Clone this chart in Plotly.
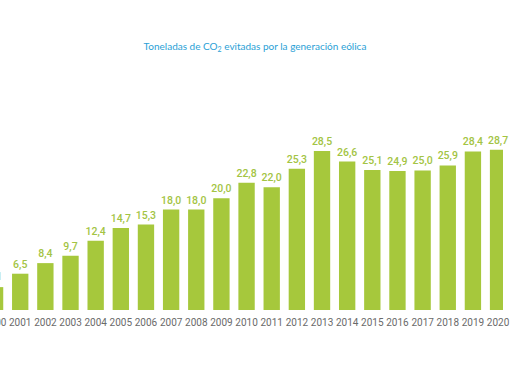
import plotly.graph_objects as go

years = [str(y) for y in range(2000, 2021)]
values = [4.1, 6.5, 8.4, 9.7, 12.4, 14.7, 15.3, 18.0, 18.0, 20.0, 22.8, 22.0,
          25.3, 28.5, 26.6, 25.1, 24.9, 25.0, 25.9, 28.4, 28.7]
labels = [f"{v:.1f}".replace(".", ",") for v in values]

GREEN = "#a6c83c"
LABEL_GREEN = "#a3c444"
GRAY = "#6a6a6a"
YEAR_FONT = dict(family="Liberation Sans Narrow, Roboto", size=10, color=GRAY)
VAL_FONT = dict(family="Roboto", size=10.5, color=LABEL_GREEN, weight=500)

W = 510
PITCH = 25.5
X0_PX = -5.0  # centre of first bar in pixels

fig = go.Figure(go.Bar(
    x=years, y=values, text=labels, textposition="outside",
    textfont=VAL_FONT, constraintext="none",
    marker=dict(color=GREEN, line=dict(width=0)),
    cliponaxis=False, hoverinfo="skip",
))

lo = -X0_PX / PITCH
fig.update_layout(
    width=W, height=382,
    margin=dict(l=0, r=0, t=80, b=72),
    paper_bgcolor="white", plot_bgcolor="white",
    bargap=0.35,
    showlegend=False,
    title=dict(
        text="Toneladas de CO<sub>2</sub> evitadas por la generación eólica",
        x=0.5, xanchor="center", y=1 - 46 / 382, yanchor="middle",
        font=dict(family="Lato", size=10, color="#2a9fd6"),
    ),
    xaxis=dict(
        type="category", range=[lo, lo + W / PITCH],
        showgrid=False, showline=False, zeroline=False, ticks="",
        tickfont=YEAR_FONT,
        ticklabelstandoff=5,
    ),
    yaxis=dict(range=[0, 41.2], visible=False, showgrid=False),
    annotations=[
        dict(x=X0_PX / W, y=0, xref="paper", yref="y", text=years[0], showarrow=False,
             xanchor="center", yanchor="top", yshift=-5, font=YEAR_FONT),
        dict(x=X0_PX / W, y=values[0], xref="paper", yref="y", text=labels[0], showarrow=False,
             xanchor="center", yanchor="bottom", yshift=2, font=VAL_FONT),
    ],
)

fig.write_html("out.html", config={"displayModeBar": False},
               post_script="document.body.style.margin='0';document.body.style.overflow='hidden';")
